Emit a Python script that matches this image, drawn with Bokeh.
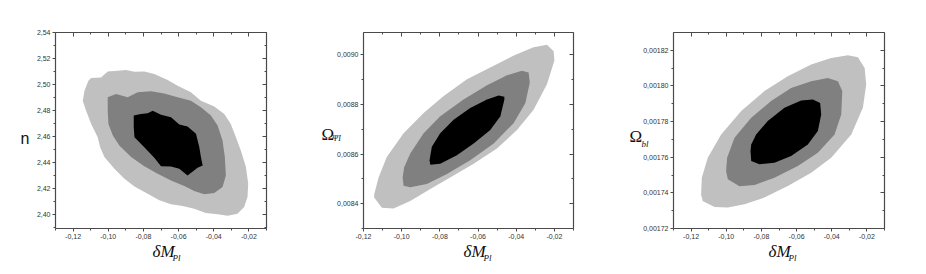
from bokeh.plotting import figure
from bokeh.models import LinearAxis, FixedTicker, CustomJSTickFormatter, Label, Range1d
from bokeh.layouts import row
from bokeh.embed import file_html
from bokeh.resources import INLINE

# ---------------- data ----------------
x_ticks = [-0.12, -0.10, -0.08, -0.06, -0.04, -0.02]
x_minor = [-0.13, -0.11, -0.09, -0.07, -0.05, -0.03, -0.01]

p1_y_ticks = [2.40, 2.42, 2.44, 2.46, 2.48, 2.50, 2.52, 2.54]
p1_y_minor = [2.39, 2.41, 2.43, 2.45, 2.47, 2.49, 2.51, 2.53]
p2_y_ticks = [0.0084, 0.0086, 0.0088, 0.0090]
p2_y_minor = [0.0083, 0.0085, 0.0087, 0.0089]
p3_y_ticks = [0.00172, 0.00174, 0.00176, 0.00178, 0.00180, 0.00182]
p3_y_minor = [0.00173, 0.00175, 0.00177, 0.00179, 0.00181]

# panel 1 : n vs dM_Pl  (3σ, 2σ, 1σ regions)
p1_outer_x = [-0.1097, -0.1041, -0.1003, -0.0946, -0.0899, -0.0851, -0.0795, -0.0738, -0.0662, -0.0605,
              -0.0530, -0.0473, -0.0397, -0.0340, -0.0303, -0.0274, -0.0246, -0.0217, -0.0204, -0.0208,
              -0.0227, -0.0265, -0.0321, -0.0378, -0.0445, -0.0511, -0.0577, -0.0643, -0.0709, -0.0776,
              -0.0851, -0.0908, -0.0965, -0.1022, -0.1046, -0.1060, -0.1097, -0.1126, -0.1145, -0.1135,
              -0.1113]
p1_outer_y = [2.5049, 2.5054, 2.5100, 2.5105, 2.5111, 2.5098, 2.5100, 2.5080, 2.5034, 2.4990,
              2.4939, 2.4875, 2.4829, 2.4773, 2.4696, 2.4593, 2.4491, 2.4363, 2.4235, 2.4132,
              2.4056, 2.4004, 2.3989, 2.3999, 2.4009, 2.4043, 2.4063, 2.4076, 2.4107, 2.4158,
              2.4214, 2.4273, 2.4350, 2.4440, 2.4516, 2.4593, 2.4696, 2.4798, 2.4875, 2.4952,
              2.5029]
p1_mid_x = [-0.1003, -0.0956, -0.0889, -0.0833, -0.0757, -0.0681, -0.0605, -0.0530, -0.0473, -0.0416,
            -0.0378, -0.0350, -0.0337, -0.0331, -0.0350, -0.0397, -0.0454, -0.0511, -0.0568, -0.0643,
            -0.0719, -0.0795, -0.0870, -0.0937, -0.0974, -0.0999, -0.1003]
p1_mid_y = [2.4901, 2.4926, 2.4901, 2.4939, 2.4947, 2.4931, 2.4901, 2.4875, 2.4824, 2.4760,
            2.4683, 2.4568, 2.4440, 2.4299, 2.4209, 2.4163, 2.4153, 2.4178, 2.4217, 2.4260,
            2.4312, 2.4370, 2.4440, 2.4529, 2.4606, 2.4696, 2.4798]
p1_core_x = [-0.0855, -0.0814, -0.0776, -0.0747, -0.0700, -0.0643, -0.0596, -0.0549, -0.0501, -0.0482,
             -0.0473, -0.0463, -0.0492, -0.0549, -0.0596, -0.0643, -0.0700, -0.0738, -0.0795, -0.0851,
             -0.0855]
p1_core_y = [2.4760, 2.4773, 2.4778, 2.4798, 2.4767, 2.4747, 2.4691, 2.4675, 2.4619, 2.4516,
             2.4440, 2.4376, 2.4358, 2.4299, 2.4350, 2.4368, 2.4370, 2.4435, 2.4516, 2.4593,
             2.4670]

# panel 2 : Omega_PsiI vs dM_Pl
p2_outer_x = [-0.1144, -0.1104, -0.1043, -0.0955, -0.0850, -0.0746, -0.0623, -0.0501, -0.0396, -0.0309,
              -0.0239, -0.0200, -0.0204, -0.0239, -0.0309, -0.0413, -0.0518, -0.0658, -0.0780, -0.0885,
              -0.0990, -0.1078, -0.1121, -0.1144]
p2_outer_y = [0.008425, 0.008384, 0.008381, 0.008411, 0.008459, 0.008506, 0.008561, 0.008622, 0.008697, 0.008779,
              0.008881, 0.008977, 0.009014, 0.009041, 0.009031, 0.008997, 0.008956, 0.008902, 0.008834, 0.008766,
              0.008684, 0.008588, 0.008506, 0.008438]
p2_mid_x = [-0.0995, -0.0990, -0.0955, -0.0868, -0.0763, -0.0641, -0.0518, -0.0413, -0.0352, -0.0329,
            -0.0335, -0.0370, -0.0448, -0.0553, -0.0676, -0.0798, -0.0885, -0.0955, -0.0987]
p2_mid_y = [0.008506, 0.008472, 0.008466, 0.008479, 0.008520, 0.008575, 0.008643, 0.008725, 0.008806, 0.008888,
            0.008929, 0.008936, 0.008918, 0.008877, 0.008820, 0.008752, 0.008684, 0.008602, 0.008547]
p2_core_x = [-0.0854, -0.0850, -0.0798, -0.0711, -0.0623, -0.0536, -0.0483, -0.0462, -0.0462, -0.0492,
             -0.0553, -0.0641, -0.0728, -0.0798, -0.0842]
p2_core_y = [0.008575, 0.008557, 0.008561, 0.008595, 0.008643, 0.008697, 0.008752, 0.008820, 0.008831, 0.008836,
             0.008820, 0.008786, 0.008738, 0.008684, 0.008629]

# panel 3 : Omega_bl vs dM_Pl
p3_outer_x = [-0.1143, -0.1134, -0.1067, -0.0991, -0.0896, -0.0783, -0.0650, -0.0517, -0.0403, -0.0289,
              -0.0223, -0.0204, -0.0213, -0.0251, -0.0308, -0.0403, -0.0517, -0.0650, -0.0783, -0.0915,
              -0.1029, -0.1105, -0.1139]
p3_outer_y = [0.0017392, 0.0017355, 0.0017321, 0.0017318, 0.0017336, 0.0017374, 0.0017439, 0.0017513, 0.0017597, 0.0017728,
              0.0017877, 0.0018008, 0.0018101, 0.0018161, 0.0018172, 0.0018157, 0.0018120, 0.0018054, 0.0017971, 0.0017859,
              0.0017728, 0.0017597, 0.0017485]
p3_mid_x = [-0.1001, -0.0991, -0.0925, -0.0839, -0.0726, -0.0593, -0.0479, -0.0384, -0.0346, -0.0340,
            -0.0365, -0.0422, -0.0517, -0.0631, -0.0745, -0.0858, -0.0953, -0.0995]
p3_mid_y = [0.0017523, 0.0017476, 0.0017437, 0.0017444, 0.0017485, 0.0017551, 0.0017625, 0.0017728, 0.0017840, 0.0017971,
            0.0018026, 0.0018045, 0.0018026, 0.0017989, 0.0017915, 0.0017821, 0.0017709, 0.0017597]
p3_core_x = [-0.0862, -0.0858, -0.0811, -0.0726, -0.0631, -0.0536, -0.0479, -0.0460, -0.0466, -0.0507,
             -0.0574, -0.0669, -0.0764, -0.0830, -0.0858]
p3_core_y = [0.0017635, 0.0017579, 0.0017560, 0.0017569, 0.0017607, 0.0017672, 0.0017747, 0.0017840, 0.0017905, 0.0017924,
             0.0017918, 0.0017877, 0.0017803, 0.0017728, 0.0017672]

x_label_main = "δM"
x_label_sub = "Pl"

# ---------------- styling ----------------
FILLS = ["#c0c0c0", "#808080", "#000000"]
AXIS_COL = "#4a4a4a"
TICK_FONT = "Liberation Sans"
SERIF = "Liberation Serif"
FRAME_H = 196
MT, MB = 32, 40


def fmt(d):
    return CustomJSTickFormatter(code="return tick.toFixed(%d).replace('.', ',');" % d)


def make_panel(xr, yr, yt, ym, ydig, contours, ml, fw, mr):
    p = figure(frame_width=fw, frame_height=FRAME_H,
               x_range=Range1d(*xr), y_range=Range1d(*yr),
               output_backend="svg", toolbar_location=None,
               x_axis_location=None, y_axis_location=None,
               min_border_left=ml, min_border_right=mr,
               min_border_top=MT, min_border_bottom=MB)
    p.outline_line_color = None
    p.xgrid.visible = False
    p.ygrid.visible = False
    p.background_fill_color = "white"
    p.border_fill_color = "white"

    for (cx, cy), col in zip(contours, FILLS):
        p.patch(cx, cy, fill_color=col, line_color=None)

    def axis(loc, ticks, minor, dig, labels):
        ax = LinearAxis(ticker=FixedTicker(ticks=ticks, minor_ticks=minor),
                        formatter=fmt(dig))
        ax.axis_line_color = AXIS_COL
        ax.axis_line_width = 1.2
        ax.major_tick_line_color = AXIS_COL
        ax.minor_tick_line_color = AXIS_COL
        if labels:
            ax.major_tick_out = 3
            ax.major_tick_in = 0
            ax.minor_tick_out = 2
            ax.minor_tick_in = 0
            ax.major_label_text_font = TICK_FONT
            ax.major_label_text_font_size = "7px"
            ax.major_label_text_color = "#333333"
            ax.major_label_standoff = 2
        else:
            ax.major_tick_out = 0
            ax.major_tick_in = 4
            ax.minor_tick_out = 0
            ax.minor_tick_in = 2
            ax.major_label_text_font_size = "0px"
            ax.major_label_text_color = None
            ax.major_label_standoff = 0
        p.add_layout(ax, loc)

    axis("below", x_ticks, x_minor, 2, True)
    axis("above", x_ticks, x_minor, 2, False)
    axis("left", yt, ym, ydig, True)
    axis("right", yt, ym, ydig, False)
    return p


def at(rng, size, px):
    return rng[0] + px / size * (rng[1] - rng[0])


def below_text(p, xr, fw, px, sy, text, size, style="italic"):
    # x in data units (frame scale), y in screen px of the side panel
    p.add_layout(Label(x=at(xr, fw, px), y=sy, x_units="data", y_units="screen",
                       text=text, text_font=SERIF, text_font_size=size,
                       text_font_style=style, text_color="#111111",
                       text_align="left", text_baseline="middle"), "below")


def left_text(p, yr, sx, py, text, font, size, style="normal"):
    p.add_layout(Label(x=sx, y=at(yr, FRAME_H, py), x_units="screen", y_units="data",
                       text=text, text_font=font, text_font_size=size,
                       text_font_style=style, text_color="#111111",
                       text_align="left", text_baseline="middle"), "left")


def add_xlabel(p, xr, fw, px):
    below_text(p, xr, fw, px, 9, x_label_main, "17px")
    below_text(p, xr, fw, px + 20, 13, x_label_sub, "9px")


# panel 1
xr1, yr1, fw1 = (-0.13, -0.01), (2.389, 2.54), 211
p1 = make_panel(xr1, yr1, p1_y_ticks, p1_y_minor, 2,
                [(p1_outer_x, p1_outer_y), (p1_mid_x, p1_mid_y), (p1_core_x, p1_core_y)],
                55, fw1, 44)
add_xlabel(p1, xr1, fw1, 97)
left_text(p1, yr1, -4, 90, "n", "Liberation Sans", "16px")

# panel 2
xr2, yr2, fw2 = (-0.12, -0.01), (0.0083, 0.00909), 210
p2 = make_panel(xr2, yr2, p2_y_ticks, p2_y_minor, 4,
                [(p2_outer_x, p2_outer_y), (p2_mid_x, p2_mid_y), (p2_core_x, p2_core_y)],
                53, fw2, 47)
add_xlabel(p2, xr2, fw2, 100)
left_text(p2, yr2, 0, 94, "Ω", SERIF, "17px")
left_text(p2, yr2, 19, 90, "ΨI", SERIF, "8px", "italic")

# panel 3
xr3, yr3, fw3 = (-0.13, -0.01), (0.00172, 0.00183), 211
p3 = make_panel(xr3, yr3, p3_y_ticks, p3_y_minor, 5,
                [(p3_outer_x, p3_outer_y), (p3_mid_x, p3_mid_y), (p3_core_x, p3_core_y)],
                52, fw3, 27)
add_xlabel(p3, xr3, fw3, 95)
left_text(p3, yr3, 2, 92, "Ω", SERIF, "17px")
left_text(p3, yr3, 21, 85, "bl", SERIF, "9px", "italic")

layout = row(p1, p2, p3)
open("out.html", "w").write(file_html(layout, INLINE))
